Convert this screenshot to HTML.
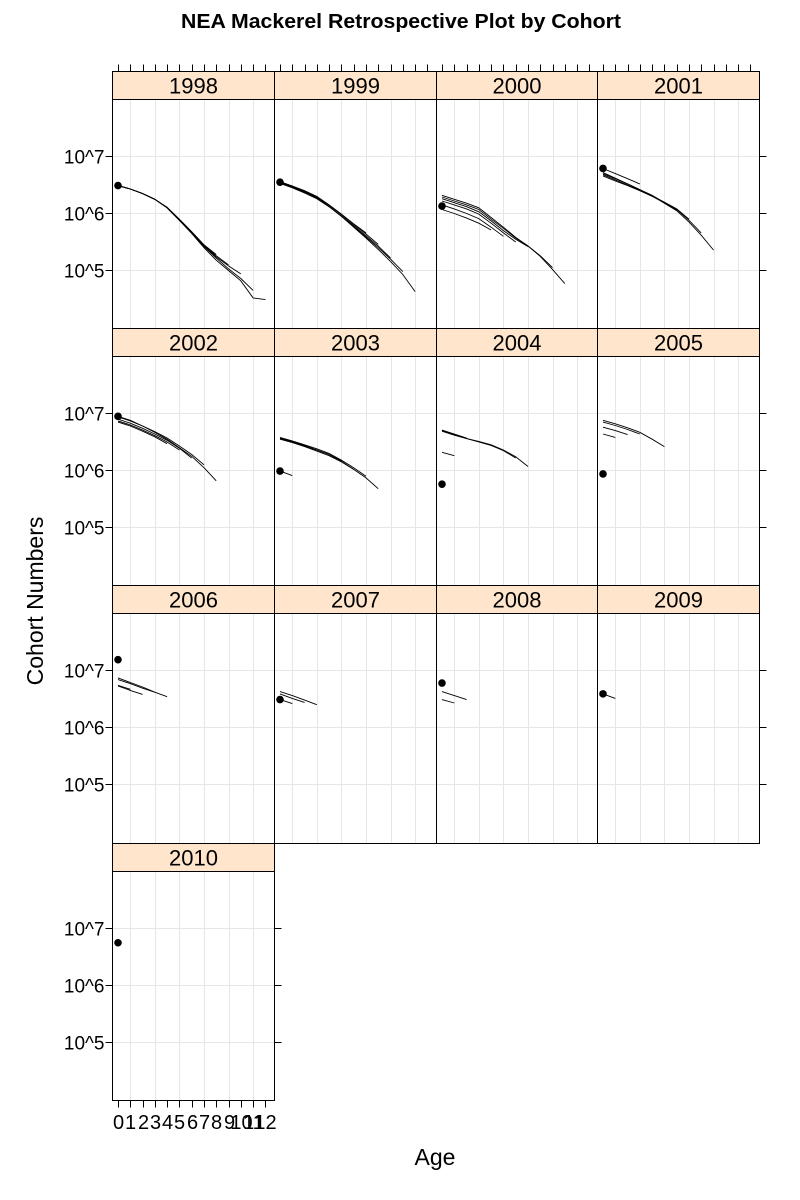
<!DOCTYPE html>
<html><head><meta charset="utf-8"><style>
html,body{margin:0;padding:0;background:#fff}
svg{display:block;font-family:"Liberation Sans",Arial,sans-serif}
</style></head><body>
<svg id="chart" width="800" height="1200" viewBox="0 0 800 1200" xmlns="http://www.w3.org/2000/svg">
<text x="401" y="28" text-anchor="middle" font-size="20" font-weight="bold" textLength="440" lengthAdjust="spacingAndGlyphs">NEA Mackerel Retrospective Plot by Cohort</text>
<text x="0" y="0" transform="translate(43,601) rotate(-90)" text-anchor="middle" font-size="23">Cohort Numbers</text>
<text x="435" y="1165" text-anchor="middle" font-size="23">Age</text>
</svg>
<script>
// log10 cohort numbers by age (index = age)
const cohorts = [1998,1999,2000,2001,2002,2003,2004,2005,2006,2007,2008,2009,2010];
const points = [6.49,6.55,6.13,6.79,6.95,5.99,5.76,5.94,7.19,6.49,6.78,6.59,6.75];
const series1998 = [
 [6.49,6.43,6.35,6.25,6.10,5.88,5.65,5.40,5.18,5.00,4.82,4.52,4.49],
 [6.49,6.43,6.35,6.25,6.10,5.88,5.66,5.42,5.22,5.03,4.86,4.65],
 [6.49,6.43,6.35,6.25,6.10,5.88,5.66,5.43,5.24,5.08,4.94],
 [6.49,6.43,6.35,6.25,6.10,5.89,5.67,5.44,5.26,5.10],
 [6.49,6.43,6.35,6.25,6.11,5.90,5.68,5.45,5.28]];
const series1999 = [
 [6.55,6.47,6.38,6.28,6.12,5.95,5.76,5.57,5.37,5.16,4.93,4.63],
 [6.54,6.46,6.37,6.27,6.12,5.95,5.77,5.59,5.40,5.20,4.98],
 [6.53,6.45,6.36,6.26,6.12,5.96,5.79,5.61,5.43,5.22],
 [6.55,6.48,6.39,6.29,6.14,5.98,5.81,5.64,5.46],
 [6.56,6.48,6.40,6.30,6.15,5.99,5.82,5.66]];
const series2000 = [
 [6.32,6.25,6.18,6.10,5.93,5.76,5.58,5.43,5.25,5.02,4.77],
 [6.29,6.22,6.15,6.07,5.90,5.74,5.57,5.43,5.26,5.05],
 [6.26,6.19,6.12,6.03,5.87,5.70,5.55,5.42],
 [6.22,6.15,6.08,5.99,5.83,5.66,5.50],
 [6.15,6.08,6.00,5.91,5.76,5.60],
 [6.07,6.00,5.92,5.83,5.71]];
const series2001 = [
 [6.79,6.70,6.61,6.52],
 [6.72,6.62,6.52,6.42,6.31,6.18,6.05,5.85,5.62,5.36],
 [6.70,6.61,6.52,6.42,6.32,6.19,6.07,5.88,5.66],
 [6.68,6.59,6.50,6.41,6.31,6.20,6.08,5.90],
 [6.66,6.57,6.49,6.40,6.30,6.19,6.06]];
const series2002 = [
 [6.95,6.88,6.78,6.67,6.55,6.40,6.25,6.05,5.82],
 [6.94,6.87,6.78,6.68,6.57,6.43,6.28,6.10],
 [6.90,6.83,6.74,6.64,6.53,6.39,6.22],
 [6.87,6.80,6.71,6.61,6.50,6.36],
 [6.85,6.78,6.69,6.59,6.47]];
const series2003 = [
 [5.99,5.91],
 [6.56,6.50,6.43,6.36,6.28,6.16,6.02,5.87,5.68],
 [6.58,6.52,6.45,6.38,6.30,6.18,6.05,5.90],
 [6.55,6.49,6.42,6.34,6.26,6.15,6.02],
 [6.57,6.51,6.44,6.36,6.28,6.17]];
const series2004 = [
 [6.32,6.26],
 [6.70,6.63,6.56,6.51,6.45,6.36,6.24,6.07],
 [6.69,6.62,6.56,6.50,6.44,6.35,6.22],
 [6.71,6.64,6.57]];
const series2005 = [
 [6.88,6.82,6.75,6.67,6.55,6.42],
 [6.85,6.79,6.72,6.64],
 [6.76,6.70,6.63],
 [6.64,6.58]];
const series2006 = [
 [6.87,6.79,6.71,6.62,6.54],
 [6.84,6.77,6.69,6.62],
 [6.73,6.65,6.58],
 [6.74,6.67]];
const series2007 = [[6.63,6.56,6.48,6.40],[6.59,6.51,6.44],[6.49,6.42]];
const series2008 = [[6.63,6.56,6.49],[6.49,6.43]];
const series2009 = [[6.59,6.51]];
const series2010 = [];
const allSeries = [series1998,series1999,series2000,series2001,series2002,series2003,series2004,series2005,series2006,series2007,series2008,series2009,series2010];
const yTickVals = [7,6,5];
const yTickLabels = ["10^7","10^6","10^5"];
const xTickLabels = ["0","1","2","3","4","5","6","7","8","9","10","11","12"];

const NS = "http://www.w3.org/2000/svg";
const svg = document.getElementById("chart");
const colEdges = [112.5,274.5,436.5,597.5,759.5];
const rowTop = [71.5,328.5,585.5,843.5], rowBottom = [328.5,585.5,843.5,1100.5], SH = 28;
function mk(tag, attrs, parent){const e=document.createElementNS(NS,tag);for(const k in attrs)e.setAttribute(k,attrs[k]);(parent||svg).appendChild(e);return e;}
function xs(x0,age){return x0+5.5+age*12.28;}
function ys(y0,lg){return y0+57+(7-lg)*57;}

cohorts.forEach((c,i)=>{
  const col=i%4,row=Math.floor(i/4);
  const x0=colEdges[col], x1=colEdges[col+1], PW=x1-x0;
  const st=rowTop[row], y0=st+SH, PH=rowBottom[row]-y0;
  const g=mk("g",{});
  
  
  for(let a=1;a<=11;a+=2){const l=mk("line",{x1:Math.round(xs(x0,a))+0.5,x2:Math.round(xs(x0,a))+0.5,y1:y0,y2:y0+PH,stroke:"#e6e6e6","stroke-width":1},g);}
  yTickVals.forEach(v=>{const l=mk("line",{x1:x0,x2:x1,y1:ys(y0,v),y2:ys(y0,v),stroke:"#e6e6e6","stroke-width":1},g);});
  allSeries[i].forEach(s=>{
    const pts=s.map((v,a)=>xs(x0,a).toFixed(1)+","+ys(y0,v).toFixed(1)).join(" ");
    const p=mk("polyline",{points:pts,fill:"none",stroke:"#000","stroke-width":0.9},g);
    
    
  });
  const pt=mk("circle",{cx:xs(x0,0),cy:ys(y0,points[i]),r:3.8,fill:"#000"},g);
  
  
  const sr=mk("rect",{x:x0,y:st,width:PW,height:SH,fill:"#ffe5cc",stroke:"#000","stroke-width":1},g);
  
  
  const stt=mk("text",{x:x0+PW/2,y:st+22,"text-anchor":"middle","font-size":22},g);
  stt.textContent=c;
  
  
  const br=mk("rect",{x:x0,y:y0,width:PW,height:PH,fill:"none",stroke:"#000","stroke-width":1},g);
  
  
  if(col===0){
    yTickVals.forEach((v,k)=>{
      const t=mk("line",{x1:x0-7,x2:x0,y1:ys(y0,v),y2:ys(y0,v),stroke:"#000"},g);
      
      
      const tl=mk("text",{x:x0-8,y:ys(y0,v)+7,"text-anchor":"end","font-size":19},g);
      tl.textContent=yTickLabels[k];
      
      
    });
  }
  if(col===3||i===cohorts.length-1){
    yTickVals.forEach(v=>{const t=mk("line",{x1:x1,x2:x1+7,y1:ys(y0,v),y2:ys(y0,v),stroke:"#000"},g);});
  }
  if(row===0){
    xTickLabels.forEach((lab,a)=>{const xx=Math.round(xs(x0,a))+0.5;const t=mk("line",{x1:xx,x2:xx,y1:st-7,y2:st,stroke:"#000"},g);});
  }
  if(i===cohorts.length-1){
    xTickLabels.forEach((lab,a)=>{
      const xx=Math.round(xs(x0,a))+0.5;
      const t=mk("line",{x1:xx,x2:xx,y1:y0+PH,y2:y0+PH+7,stroke:"#000"},g);
      
      
      const tl=mk("text",{x:xx,y:1129,"text-anchor":"middle","font-size":20},g);
      tl.textContent=lab;
      
      
    });
  }
});
</script>
</body></html>
